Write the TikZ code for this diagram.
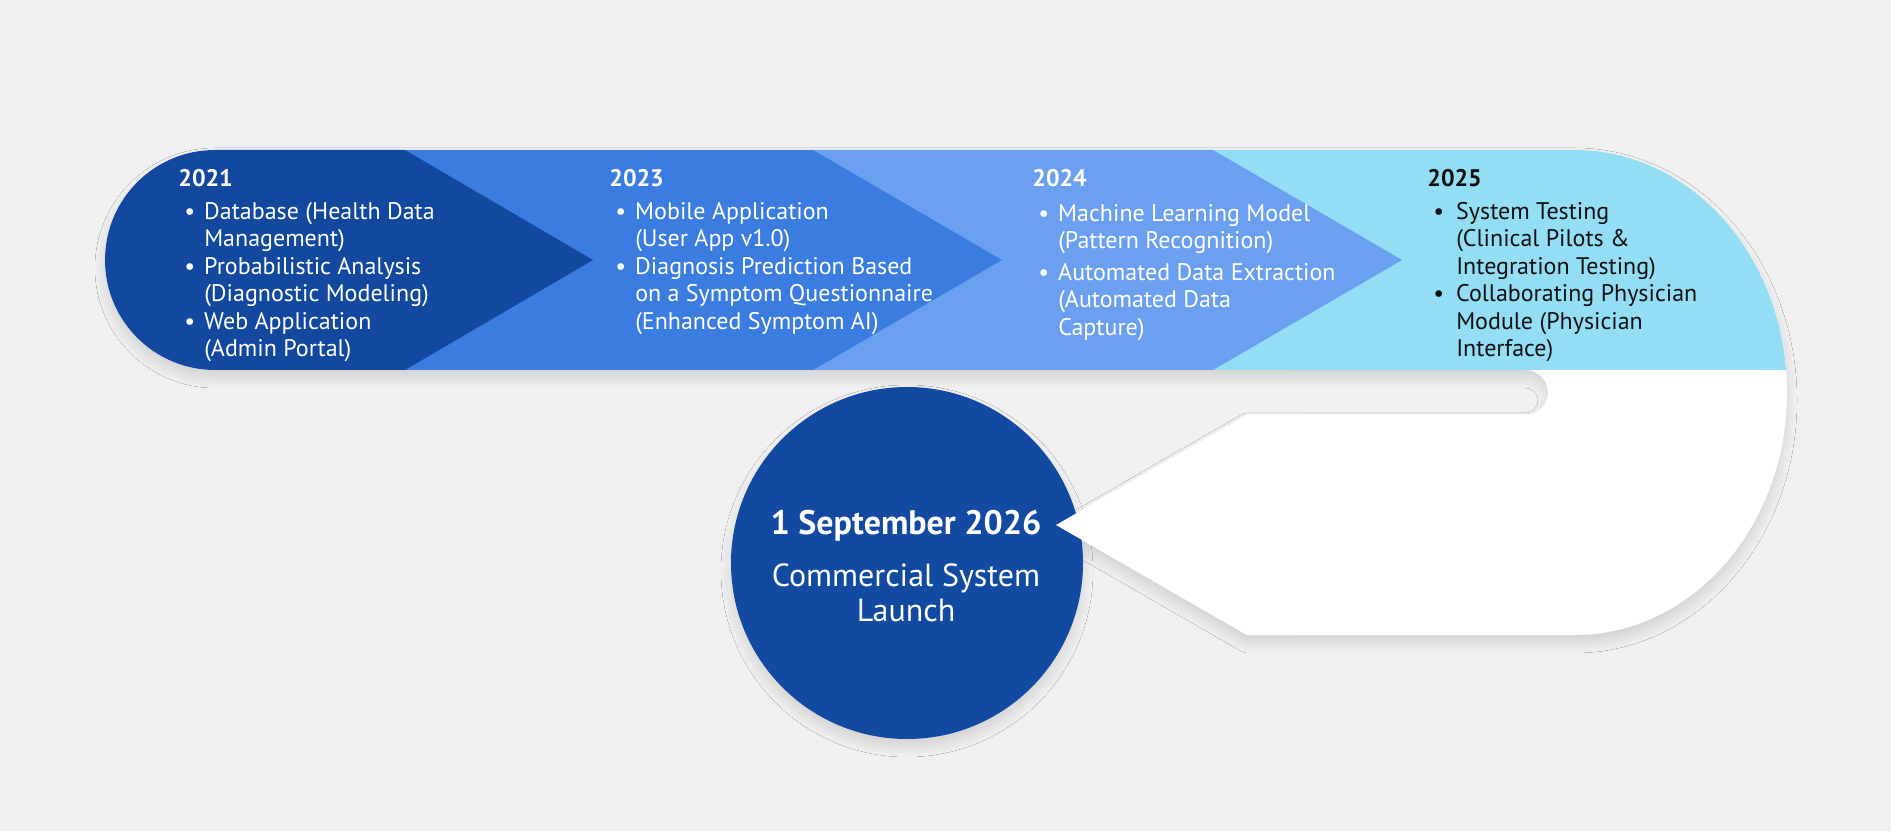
\documentclass[tikz,border=0pt]{standalone}
\usepackage{fontspec}
\setmainfont{PT Sans}
\usetikzlibrary{shadows.blur}

\definecolor{bggrey}{HTML}{F0F0F0}
\definecolor{phaseone}{HTML}{13489F}
\definecolor{phasetwo}{HTML}{3B7CE0}
\definecolor{phasethree}{HTML}{6B9FF0}
\definecolor{phasefour}{HTML}{93DDF5}
\definecolor{launchblue}{HTML}{114AA0}
\definecolor{darktext}{HTML}{111111}

\begin{document}
\begin{tikzpicture}[x=0.5pt, y=0.5pt,
        phasetext/.style={anchor=base west, inner sep=0pt, text=white,
            font=\fontsize{12}{13.75}\selectfont},
        softshadow/.style={blur shadow={shadow xshift=0pt, shadow yshift=-4pt,
            shadow blur radius=5pt, shadow opacity=12}},
        roundnode/.style={circle, fill=launchblue, minimum size=176pt, inner sep=0pt, softshadow},
        ]

        % Canvas
        \useasboundingbox (0,0) rectangle (1891,831);
        \fill[bggrey] (0,0) rectangle (1891,831);

        % Band and hook outline
        \fill[white, softshadow] (215,681) -- (1575,681)
            arc[start angle=90, end angle=-90, x radius=212, y radius=242.5]
            -- (1247,196) -- (1056,306) -- (1247,416) -- (1525.5,416)
            arc[start angle=-90, end angle=90, radius=22.5]
            -- (215,461) arc[start angle=270, end angle=90, radius=110] -- cycle;

        % Phases, right to left
        \fill[phasefour] (1213,681) -- (1575,681)
            arc[start angle=90, end angle=5.32, x radius=212, y radius=242.5]
            -- (1213,461) -- cycle;
        \fill[phasethree] (813,681) -- (1213,681) -- (1402,571) -- (1213,461) -- (813,461) -- cycle;
        \fill[phasetwo] (405,681) -- (813,681) -- (1002,571) -- (813,461) -- (405,461) -- cycle;
        \fill[phaseone] (215,681) -- (405,681) -- (593,571) -- (405,461) -- (215,461)
            arc[start angle=270, end angle=90, radius=110] -- cycle;

        % Launch
        \node[roundnode] (launch) at (907,268) { };
        \fill[white] (1247,416) -- (1056,306) -- (1247,196) -- (1300,196) -- (1300,416) -- cycle;
        \node[anchor=base, inner sep=0pt, text=white, font=\fontsize{16}{17.5}\selectfont]
            (launchtext) at (906,296) {\begin{tabular}[t]{@{}c@{}}
            {\fontsize{17}{17.5}\selectfont\bfseries 1 September 2026}\\[8.5pt]
            Commercial System\\
            Launch
            \end{tabular}};

        % 2021
        \node[phasetext] (p2021) at (178,644) {\begin{tabular}[t]{@{}l@{\hspace{4.5pt}}l@{}}
            \multicolumn{2}{@{}l}{\textbf{2021}}\\[2.5pt]
            \hspace{3pt}\textbullet & Database (Health Data\\
            & Management)\\
            \hspace{3pt}\textbullet & Probabilistic Analysis\\
            & (Diagnostic Modeling)\\
            \hspace{3pt}\textbullet & Web Application\\
            & (Admin Portal)
            \end{tabular}};

        % 2023
        \node[phasetext] (p2023) at (609,644) {\begin{tabular}[t]{@{}l@{\hspace{4.5pt}}l@{}}
            \multicolumn{2}{@{}l}{\textbf{2023}}\\[2.5pt]
            \hspace{3pt}\textbullet & Mobile Application\\
            & (User App v1.0)\\
            \hspace{3pt}\textbullet & Diagnosis Prediction Based\\
            & on a Symptom Questionnaire\\
            & (Enhanced Symptom AI)
            \end{tabular}};

        % 2024
        \node[phasetext] (p2024) at (1032,644) {\begin{tabular}[t]{@{}l@{\hspace{4.5pt}}l@{}}
            \multicolumn{2}{@{}l}{\textbf{2024}}\\[3.5pt]
            \hspace{3pt}\textbullet & Machine Learning Model\\
            & (Pattern Recognition)\\[2pt]
            \hspace{3pt}\textbullet & Automated Data Extraction\\
            & (Automated Data\\
            & Capture)
            \end{tabular}};

        % 2025
        \node[phasetext, text=darktext] (p2025) at (1427,644) {\begin{tabular}[t]{@{}l@{\hspace{6pt}}l@{}}
            \multicolumn{2}{@{}l}{\textbf{2025}}\\[2.5pt]
            \hspace{3pt}\textbullet & System Testing\\
            & (Clinical Pilots \&\\
            & Integration Testing)\\
            \hspace{3pt}\textbullet & Collaborating Physician\\
            & Module (Physician\\
            & Interface)
            \end{tabular}};

    \end{tikzpicture}
\end{document}
